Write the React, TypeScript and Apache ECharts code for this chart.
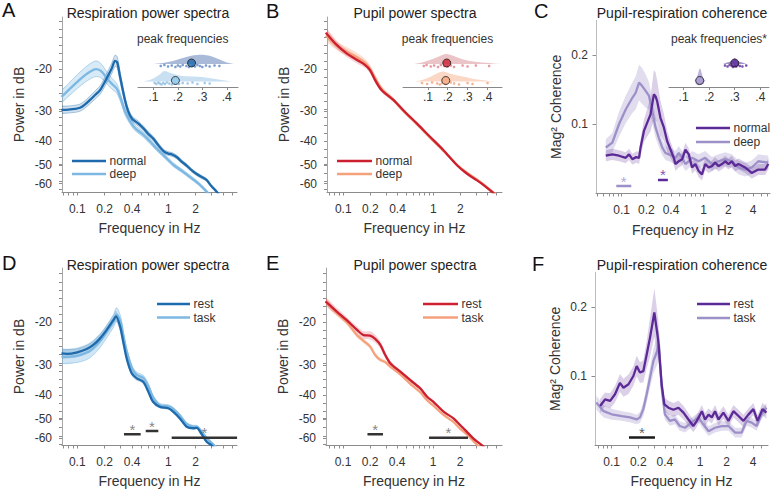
import React, { useEffect, useRef } from "react";
import * as echarts from "echarts";

type Row = [number, number, number]; // [Hz, mean, sem]
type Pt = [number, number];

// ================= DATA =================
// A: respiration power spectra (dB), normal vs deep breathing
const respNormal: Row[] = [
  [0.067, -29.6, 1.0], [0.08, -29.5, 1.0], [0.095, -29.3, 1.0], [0.107, -29.0, 1.0], [0.12, -28.2, 1.0],
  [0.138, -26.9, 1.0], [0.158, -25.6, 1.0], [0.178, -24.5, 1.0], [0.206, -22.2, 1.0], [0.239, -19.9, 1.0],
  [0.26, -18.5, 1.0], [0.275, -18.8, 1.0], [0.295, -21.5, 1.0], [0.334, -26.9, 0.9], [0.363, -30.0, 0.8],
  [0.4, -32.2, 0.8], [0.47, -33.8, 0.8], [0.531, -35.3, 0.8], [0.6, -37.2, 0.8], [0.684, -39.0, 0.8],
  [0.776, -41.5, 0.8], [0.9, -44.2, 0.8], [1.0, -45.0, 0.8], [1.1, -45.4, 0.8], [1.236, -46.5, 0.8],
  [1.4, -48.6, 0.8], [1.59, -50.5, 0.8], [1.8, -52.8, 0.8], [2.05, -54.8, 0.8], [2.35, -56.5, 0.8],
  [2.64, -58.0, 0.8], [2.87, -60.5, 0.8], [3.1, -62.5, 0.8], [3.4, -65.0, 0.8], [3.7, -67.5, 0.8],
];
const respDeep: Row[] = [
  [0.067, -26.1, 1.5], [0.08, -24.5, 1.5], [0.1, -22.6, 1.5], [0.12, -21.3, 1.5], [0.138, -20.5, 1.5],
  [0.16, -20.0, 1.5], [0.18, -20.3, 1.4], [0.2, -21.2, 1.3], [0.22, -22.2, 1.2], [0.239, -23.0, 1.2],
  [0.271, -24.1, 1.1], [0.3, -26.5, 1.0], [0.334, -30.0, 1.0], [0.38, -33.0, 0.9], [0.43, -35.2, 0.9],
  [0.53, -37.5, 0.9], [0.627, -40.0, 0.9], [0.75, -43.0, 0.9], [0.9, -46.0, 0.9], [1.13, -50.0, 0.9],
  [1.4, -53.0, 0.9], [1.7, -56.0, 0.9], [2.15, -60.0, 0.9], [2.5, -63.5, 0.9], [2.8, -66.5, 0.9],
];
// B: pupil power spectra
const pupilNormal: Row[] = [
  [0.064, -14.1, 0.6], [0.085, -15.9, 0.6], [0.109, -17.2, 0.6], [0.141, -18.3, 0.6], [0.174, -19.2, 0.6],
  [0.198, -20.2, 0.6], [0.225, -22.2, 0.6], [0.267, -24.5, 0.6], [0.36, -26.9, 0.5], [0.464, -29.7, 0.5],
  [0.655, -33.7, 0.5], [0.919, -38.3, 0.5], [1.29, -43.5, 0.5], [1.82, -50.2, 0.5], [2.35, -54.5, 0.5],
  [3.03, -58.1, 0.5], [3.59, -60.8, 0.5], [4.45, -64.9, 0.5], [5.0, -67.5, 0.5],
];
const pupilDeep: Row[] = [
  [0.064, -14.5, 0.7], [0.085, -16.0, 0.7], [0.109, -16.9, 0.7], [0.141, -17.8, 0.7], [0.174, -18.8, 0.7],
  [0.198, -19.9, 0.7], [0.225, -21.7, 0.7], [0.267, -24.2, 0.6], [0.36, -26.9, 0.6], [0.464, -29.9, 0.6],
  [0.655, -33.9, 0.6], [0.919, -38.6, 0.6], [1.29, -43.8, 0.6], [1.82, -50.0, 0.6], [2.35, -54.0, 0.6],
  [3.03, -57.6, 0.6], [3.59, -60.3, 0.6], [4.45, -64.5, 0.6], [5.0, -67.0, 0.6],
];
// C: pupil-respiration coherence
const cohNormal: Row[] = [
  [0.064, 0.054, 0.008], [0.077, 0.056, 0.008], [0.093, 0.054, 0.008], [0.112, 0.051, 0.008], [0.123, 0.056, 0.008],
  [0.135, 0.049, 0.008], [0.15, 0.052, 0.008], [0.163, 0.051, 0.009], [0.17, 0.066, 0.012], [0.187, 0.09, 0.016],
  [0.205, 0.102, 0.02], [0.225, 0.114, 0.025], [0.247, 0.143, 0.035], [0.259, 0.14, 0.035], [0.271, 0.133, 0.03],
  [0.297, 0.109, 0.025], [0.327, 0.095, 0.02], [0.359, 0.075, 0.015], [0.394, 0.063, 0.012], [0.432, 0.051, 0.01],
  [0.452, 0.042, 0.01], [0.497, 0.046, 0.009], [0.546, 0.049, 0.009], [0.599, 0.063, 0.01], [0.658, 0.056, 0.009],
  [0.722, 0.037, 0.009], [0.791, 0.042, 0.009], [0.869, 0.032, 0.009], [0.953, 0.027, 0.009], [1.045, 0.042, 0.009],
  [1.15, 0.037, 0.008], [1.26, 0.039, 0.008], [1.38, 0.044, 0.008], [1.52, 0.039, 0.008], [1.67, 0.042, 0.008],
  [1.83, 0.046, 0.008], [2.01, 0.042, 0.008], [2.2, 0.046, 0.008], [2.42, 0.039, 0.008], [2.66, 0.042, 0.008],
  [3.2, 0.037, 0.008], [3.85, 0.029, 0.008], [4.65, 0.034, 0.008], [5.6, 0.034, 0.008], [6.15, 0.042, 0.008],
];
const cohDeep: Row[] = [
  [0.064, 0.066, 0.012], [0.077, 0.073, 0.014], [0.093, 0.1, 0.018], [0.112, 0.121, 0.02], [0.135, 0.138, 0.022],
  [0.148, 0.145, 0.024], [0.163, 0.16, 0.026], [0.178, 0.155, 0.026], [0.196, 0.148, 0.024], [0.215, 0.141, 0.02],
  [0.236, 0.119, 0.018], [0.259, 0.095, 0.015], [0.284, 0.08, 0.013], [0.312, 0.066, 0.011], [0.342, 0.058, 0.01],
  [0.376, 0.056, 0.01], [0.412, 0.054, 0.01], [0.452, 0.051, 0.01], [0.497, 0.058, 0.01], [0.546, 0.051, 0.01],
  [0.599, 0.042, 0.01], [0.658, 0.046, 0.01], [0.722, 0.051, 0.01], [0.869, 0.046, 0.01], [1.045, 0.051, 0.01],
  [1.26, 0.042, 0.01], [1.52, 0.046, 0.01], [1.83, 0.049, 0.01], [2.2, 0.046, 0.01], [2.66, 0.037, 0.01],
  [3.2, 0.034, 0.01], [3.85, 0.037, 0.01], [4.65, 0.046, 0.01], [6.15, 0.044, 0.01],
];
// D: respiration power spectra, rest vs task
const respRest: Row[] = [
  [0.067, -26.9, 1.2], [0.0765, -27.0, 1.2], [0.1, -26.6, 1.2], [0.127, -25.8, 1.2], [0.15, -24.8, 1.2],
  [0.178, -23.3, 1.1], [0.21, -21.5, 1.0], [0.249, -19.6, 1.0], [0.266, -18.9, 1.0], [0.295, -20.8, 1.0],
  [0.32, -24.1, 0.9], [0.349, -28.2, 0.8], [0.396, -32.5, 0.8], [0.45, -34.1, 0.8], [0.53, -35.2, 0.8],
  [0.603, -38.7, 0.8], [0.68, -42.6, 0.8], [0.81, -44.7, 0.7], [1.0, -45.3, 0.7], [1.13, -46.8, 0.7],
  [1.34, -49.9, 0.7], [1.59, -54.0, 0.7], [1.88, -54.8, 0.7], [2.05, -54.6, 0.7], [2.3, -57.6, 0.7],
  [2.64, -62.3, 0.7], [2.97, -64.4, 0.7], [3.3, -67.0, 0.7],
];
const respTask: Row[] = [
  [0.067, -27.8, 1.8], [0.1, -27.5, 1.8], [0.13, -26.6, 1.8], [0.15, -25.6, 1.7], [0.18, -23.8, 1.5],
  [0.21, -21.9, 1.3], [0.25, -19.8, 1.2], [0.27, -18.6, 1.2], [0.3, -20.0, 1.1], [0.32, -22.6, 1.0],
  [0.35, -26.5, 0.9], [0.4, -31.0, 0.8], [0.45, -33.0, 0.8], [0.53, -33.9, 0.8], [0.6, -36.5, 0.8],
  [0.68, -40.8, 0.8], [0.81, -44.0, 0.7], [1.0, -44.5, 0.7], [1.13, -45.6, 0.7], [1.34, -48.5, 0.7],
  [1.59, -52.6, 0.7], [1.88, -54.0, 0.7], [2.05, -54.0, 0.7], [2.3, -56.3, 0.7], [2.64, -60.2, 0.7],
  [2.97, -62.8, 0.7], [3.4, -66.0, 0.7],
];
// E: pupil power spectra, rest vs task
const pupilRest: Row[] = [
  [0.064, -16.4, 0.6], [0.086, -18.1, 0.6], [0.11, -19.6, 0.6], [0.143, -21.5, 0.7], [0.17, -22.6, 0.8],
  [0.2, -22.7, 0.9], [0.228, -23.4, 0.9], [0.26, -24.8, 0.9], [0.295, -27.3, 0.8], [0.335, -29.5, 0.7],
  [0.433, -32.0, 0.6], [0.56, -34.7, 0.6], [0.722, -37.5, 0.6], [0.86, -40.6, 0.6], [1.01, -42.6, 0.6],
  [1.31, -46.8, 0.6], [1.69, -49.9, 0.6], [2.0, -53.1, 0.6], [2.37, -56.6, 0.6], [2.8, -60.3, 0.6],
  [3.49, -64.4, 0.6], [4.0, -67.0, 0.6],
];
const pupilTask: Row[] = [
  [0.064, -16.4, 0.5], [0.086, -18.4, 0.5], [0.11, -20.0, 0.5], [0.143, -22.6, 0.5], [0.17, -23.9, 0.5],
  [0.2, -25.2, 0.5], [0.228, -27.3, 0.5], [0.26, -28.6, 0.5], [0.295, -29.2, 0.5], [0.335, -30.5, 0.5],
  [0.433, -32.8, 0.5], [0.56, -35.9, 0.5], [0.722, -38.9, 0.5], [0.86, -42.0, 0.5], [1.01, -44.2, 0.5],
  [1.31, -48.3, 0.5], [1.69, -51.6, 0.5], [2.0, -55.0, 0.5], [2.37, -58.0, 0.5], [2.8, -61.8, 0.5],
  [3.2, -65.0, 0.5], [3.6, -67.5, 0.5],
];
// F: coherence, rest vs task
const cohRest: Row[] = [
  [0.074, 0.0565, 0.01], [0.084, 0.066, 0.01], [0.096, 0.064, 0.011], [0.109, 0.0735, 0.012], [0.124, 0.09, 0.013],
  [0.136, 0.083, 0.013], [0.155, 0.088, 0.014], [0.176, 0.1, 0.014], [0.192, 0.1145, 0.015], [0.209, 0.105, 0.015],
  [0.228, 0.107, 0.016], [0.249, 0.131, 0.02], [0.272, 0.156, 0.028], [0.304, 0.192, 0.035], [0.337, 0.151, 0.03],
  [0.368, 0.088, 0.015], [0.395, 0.059, 0.01], [0.439, 0.054, 0.01], [0.5, 0.051, 0.01], [0.57, 0.054, 0.01],
  [0.65, 0.047, 0.01], [0.74, 0.037, 0.009], [0.84, 0.0275, 0.009], [0.92, 0.035, 0.009], [1.05, 0.049, 0.009],
  [1.14, 0.037, 0.009], [1.25, 0.044, 0.009], [1.36, 0.04, 0.009], [1.48, 0.049, 0.009], [1.62, 0.037, 0.009],
  [1.84, 0.047, 0.009], [2.1, 0.035, 0.009], [2.39, 0.049, 0.009], [2.73, 0.042, 0.009], [3.1, 0.035, 0.009],
  [3.53, 0.044, 0.009], [4.02, 0.052, 0.009], [4.49, 0.035, 0.009], [5.1, 0.052, 0.009], [5.65, 0.047, 0.009],
];
const cohTask: Row[] = [
  [0.067, 0.0615, 0.01], [0.081, 0.049, 0.009], [0.1, 0.0445, 0.008], [0.13, 0.042, 0.007], [0.161, 0.04, 0.007],
  [0.192, 0.037, 0.007], [0.209, 0.04, 0.008], [0.228, 0.052, 0.01], [0.249, 0.0735, 0.012], [0.272, 0.098, 0.015],
  [0.297, 0.122, 0.018], [0.323, 0.134, 0.02], [0.343, 0.146, 0.022], [0.368, 0.083, 0.015], [0.4, 0.0445, 0.008],
  [0.456, 0.035, 0.007], [0.52, 0.037, 0.007], [0.59, 0.0275, 0.007], [0.676, 0.025, 0.007], [0.8, 0.0325, 0.007],
  [0.96, 0.04, 0.007], [1.09, 0.03, 0.007], [1.25, 0.02, 0.007], [1.48, 0.025, 0.007], [1.76, 0.0275, 0.007],
  [2.1, 0.0275, 0.007], [2.5, 0.018, 0.007], [2.96, 0.018, 0.007], [3.38, 0.035, 0.007], [3.85, 0.0325, 0.007],
  [4.37, 0.0275, 0.007], [4.98, 0.0445, 0.007], [5.65, 0.054, 0.007],
];

// Insets: peak frequencies (density [Hz, height], dots [Hz, jitter], mean Hz)
const peakRespNormalDensity: Pt[] = [[0.1, 0], [0.14, 1], [0.18, 3], [0.22, 6], [0.25, 8], [0.28, 9], [0.31, 9], [0.34, 7.5], [0.37, 4.5], [0.4, 1.5], [0.43, 0]];
const peakRespDeepDensity: Pt[] = [[0.06, 0], [0.09, 2], [0.12, 6], [0.145, 10.5], [0.165, 9], [0.19, 7], [0.22, 5.5], [0.26, 5], [0.3, 4.5], [0.34, 3], [0.38, 1.5], [0.42, 0]];
const peakRespNormalDots: Pt[] = [[0.13, 2], [0.145, 1], [0.16, 2.5], [0.175, 1.5], [0.19, 3], [0.2, 1.5], [0.21, 2.5], [0.22, 1], [0.235, 2], [0.245, 3], [0.26, 1.5], [0.27, 2.5], [0.28, 1], [0.29, 2], [0.3, 3], [0.315, 1.5], [0.33, 2.5], [0.35, 1.5], [0.37, 2]];
const peakRespDeepDots: Pt[] = [[0.105, 1.5], [0.112, 2.5], [0.12, 1], [0.126, 2], [0.133, 3], [0.14, 1.5], [0.147, 2.5], [0.155, 1], [0.165, 2], [0.175, 3], [0.19, 1.5], [0.205, 2.5], [0.22, 1.5], [0.24, 2], [0.26, 1], [0.28, 2.5], [0.31, 1.5], [0.33, 2]];
const peakRespNormalMean = 0.256;
const peakRespDeepMean = 0.19;

const peakPupilNormalDensity: Pt[] = [[0.03, 0], [0.07, 1.5], [0.11, 4], [0.15, 7], [0.19, 10], [0.23, 8], [0.27, 5], [0.31, 3], [0.35, 2], [0.39, 1.2], [0.43, 0.5], [0.47, 0]];
const peakPupilDeepDensity: Pt[] = [[0.03, 0], [0.07, 1.5], [0.11, 4.5], [0.15, 8.5], [0.175, 10], [0.21, 8], [0.25, 6], [0.29, 4.5], [0.33, 2.5], [0.37, 1.5], [0.41, 0.6], [0.45, 0]];
const peakPupilNormalDots: Pt[] = [[0.079, 2], [0.093, 1], [0.114, 2.5], [0.131, 1.5], [0.151, 3], [0.165, 1], [0.182, 2], [0.199, 2.5], [0.216, 1.5], [0.232, 3], [0.275, 1.5], [0.3, 2.5], [0.342, 1.5], [0.409, 2]];
const peakPupilDeepDots: Pt[] = [[0.07, 1.5], [0.096, 2.5], [0.121, 1], [0.147, 2], [0.16, 3], [0.172, 1.5], [0.189, 2.5], [0.215, 1], [0.232, 2], [0.257, 3], [0.3, 1.5], [0.325, 2.5], [0.401, 1.5]];
const peakPupilNormalMean = 0.195;
const peakPupilDeepMean = 0.19;

const peakCohNormalDensity: Pt[] = [[0.255, 0], [0.27, 1.5], [0.285, 2.5], [0.295, 4.5], [0.3, 6], [0.305, 4.5], [0.315, 2.5], [0.33, 1.5], [0.345, 0]];
const peakCohDeepDensity: Pt[] = [[0.142, 0], [0.15, 3], [0.157, 8], [0.162, 12.5], [0.166, 12.5], [0.171, 8], [0.178, 3], [0.186, 0]];
const peakCohNormalDots: Pt[] = [[0.262, 1.5], [0.272, 2.5], [0.28, 1], [0.288, 2], [0.294, 3], [0.3, 1.5], [0.306, 2.5], [0.312, 1], [0.32, 2], [0.33, 2.5], [0.345, 1.5]];
const peakCohDeepDots: Pt[] = [[0.152, 1.5], [0.158, 2.5], [0.163, 1], [0.168, 2], [0.174, 1.5]];
const peakCohNormalMean = 0.3;
const peakCohDeepMean = 0.163;

// significance bars [fromHz, toHz, level]
const sigCDeep: Row[] = [[0.086, 0.131, 0.01]];
const sigCNormal: Row[] = [[0.277, 0.366, 0.019]];
const sigD: Row[] = [[0.326, 0.497, -58.0], [0.565, 0.777, -56.3], [1.09, 5.7, -60.0]];
const sigE: Row[] = [[0.187, 0.278, -58.0], [0.904, 2.45, -60.0]];
const sigF: Row[] = [[0.157, 0.309, 0.0107]];

// ticks
const freqLabels = [0.1, 0.2, 0.4, 1, 2];
const freqLabelsWide = [0.1, 0.2, 0.4, 1, 2, 4];
const freqMinor = [0.05, 0.06, 0.07, 0.08, 0.09, 0.1, 0.2, 0.3, 0.4, 0.5, 0.6, 0.7, 0.8, 0.9, 1, 2, 3, 4, 5, 6];
const dbLabels = [-20, -30, -40, -50, -60];
const cohLabels = [0.1, 0.2];
const peakLabels = [0.1, 0.2, 0.3, 0.4];

// ================= STYLE / LAYOUT =================
const FONT = "'Liberation Sans', Arial, Helvetica, sans-serif";
const TXT = "#333333";
const AXC = "#8c8c8c";

const C = {
  respDark: "#1d6aac", respLight: "#7cb8e2",
  pupDark: "#cc1f2f", pupLight: "#f5a27c",
  cohDark: "#5b2a96", cohLight: "#9d90c8",
};

const L = (v: number) => Math.log10(v);
const tDb = (db: number) => Math.log10(-db);

const panels = [
  { left: 62, top: 17, width: 175, height: 175, x: [-1.168, 0.755], y: [1.084, 1.8135], kind: "power", labels: freqLabels },
  { left: 327, top: 17, width: 175, height: 175, x: [-1.181, 0.763], y: [1.084, 1.8135], kind: "power", labels: freqLabels },
  { left: 596, top: 20.5, width: 174, height: 172.5, x: [-1.313, 0.809], y: [0, 0.25], kind: "coh", labels: freqLabelsWide },
  { left: 62, top: 268, width: 175, height: 177, x: [-1.168, 0.755], y: [1.0766, 1.808], kind: "power", labels: freqLabels },
  { left: 326, top: 268, width: 176, height: 177, x: [-1.189, 0.767], y: [1.0766, 1.808], kind: "power", labels: freqLabels },
  { left: 595, top: 272.5, width: 173, height: 172.5, x: [-1.189, 0.77], y: [0, 0.25], kind: "coh", labels: freqLabelsWide },
];
const insets = [
  { left: 138, top: 50, width: 100, height: 37, x: [0.037, 0.446] },
  { left: 403, top: 50, width: 99, height: 37, x: [-0.026, 0.474] },
  { left: 669, top: 50, width: 100, height: 37, x: [0.043, 0.434] },
];
const ROW_TOP = 23;
const ROW_BOT = 5.5;

function fmtHz(v: number) {
  return String(Number(Math.pow(10, v).toPrecision(2)));
}

function powerMinor(y0: number, y1: number) {
  const out: number[] = [];
  for (let k = -12; k < 30; k++) {
    const t = 1.30103 + k * 0.0335;
    if (t >= y0 && t <= y1) out.push(t);
  }
  dbLabels.forEach((d) => out.push(L(-d)));
  return out.sort((a, b) => a - b);
}

// filled polygon between an upper and a lower curve, positioned by the axes (api.coord)
function bandCustom(gi: number, upper: number[][], lower: number[][], fill: string, edge: string | null, z: number, smooth: number) {
  return {
    type: "custom", xAxisIndex: gi, yAxisIndex: gi, silent: true, z, clip: true, animation: false,
    data: [upper[0]],
    renderItem: (_params: any, api: any) => {
      const up = upper.map((p) => api.coord(p));
      const lo = lower.map((p) => api.coord(p));
      const children: any[] = [
        { type: "polygon", shape: { points: up.concat(lo.slice().reverse()), smooth, smoothConstraint: false }, style: { fill, stroke: "none" } },
      ];
      if (edge) {
        children.push({ type: "polyline", shape: { points: up, smooth }, style: { stroke: edge, lineWidth: 0.7, fill: "none" } });
        children.push({ type: "polyline", shape: { points: lo, smooth }, style: { stroke: edge, lineWidth: 0.7, fill: "none" } });
      }
      return { type: "group", children };
    },
  };
}

function curve(gi: number, rows: Row[], kind: string, color: string, fill: string, edge: string | null, z: number) {
  const xs = rows.map((r) => L(r[0]));
  const lo = rows.map((r) => (kind === "power" ? tDb(r[1] + r[2]) : r[1] - r[2]));
  const hi = rows.map((r) => (kind === "power" ? tDb(r[1] - r[2]) : r[1] + r[2]));
  const mid = rows.map((r) => (kind === "power" ? tDb(r[1]) : r[1]));
  const power = kind === "power";
  return {
    band: bandCustom(gi, xs.map((x, i) => [x, hi[i]]), xs.map((x, i) => [x, lo[i]]), fill, edge, z, power ? 0.3 : 0),
    line: {
      type: "line", xAxisIndex: gi, yAxisIndex: gi, symbol: "none", showSymbol: false, silent: true, animation: false,
      smooth: power ? 0.3 : false, z: z + 10, data: xs.map((x, i) => [x, mid[i]]), lineStyle: { width: 2.3, color },
    },
  };
}

function sigSeries(gi: number, bars: Row[], kind: string, barColor: string, starColor: string) {
  const ty = (v: number) => (kind === "power" ? tDb(v) : v);
  const out: any[] = [];
  bars.forEach((b) => {
    out.push({
      type: "line", xAxisIndex: gi, yAxisIndex: gi, symbol: "none", silent: true, z: 30,
      data: [[L(b[0]), ty(b[2])], [L(b[1]), ty(b[2])]],
      lineStyle: { width: 2.5, color: barColor },
    });
    out.push({
      type: "scatter", xAxisIndex: gi, yAxisIndex: gi, silent: true, z: 31, symbolSize: 1,
      itemStyle: { color: "rgba(0,0,0,0)" },
      data: [[(L(b[0]) + L(b[1])) / 2, ty(b[2])]],
      label: { show: true, formatter: "*", position: "top", distance: -3, fontSize: 15, color: starColor, fontFamily: FONT },
    });
  });
  return out;
}

function violin(gi: number, density: Pt[], dots: Pt[], mean: number, base: number, fill: string, dotColor: string, meanColor: string) {
  const common: any = { xAxisIndex: gi, yAxisIndex: gi, silent: true, animation: false };
  return [
    bandCustom(gi, density.map((d) => [d[0], base + d[1]]), density.map((d) => [d[0], base]), fill, null, 2, 0.35),
    { ...common, type: "scatter", symbolSize: 2.6, data: dots.map((d) => [d[0], base - d[1]]), itemStyle: { color: dotColor }, z: 3 },
    { ...common, type: "scatter", symbolSize: 8, data: [[mean, base + 1]], itemStyle: { color: meanColor, borderColor: "#1a1a1a", borderWidth: 1 }, z: 5 },
  ];
}

function txt(text: string, x: number, y: number, size: number, color: string, align = "left") {
  return {
    type: "text", x, y, silent: true, z: 50,
    style: { text, fontSize: size, fontFamily: FONT, fill: color, align, verticalAlign: "middle", textAlign: align, textVerticalAlign: "middle" },
  };
}
function legendItem(x1: number, x2: number, y: number, color: string, label: string) {
  return [
    { type: "line", silent: true, z: 50, shape: { x1, y1: y, x2, y2: y }, style: { stroke: color, lineWidth: 2.5 } },
    txt(label, x2 + 3.5, y, 12, TXT),
  ];
}

function buildOption() {
  const grid: any[] = [];
  const xAxis: any[] = [];
  const yAxis: any[] = [];

  panels.forEach((p, i) => {
    grid.push({ left: p.left, top: p.top, width: p.width, height: p.height, containLabel: false, outerBoundsMode: "none" });
    const xr = p.x;
    xAxis.push({
      gridIndex: i, type: "value", min: xr[0], max: xr[1],
      axisLine: { show: true, onZero: false, lineStyle: { color: AXC, width: 1 } },
      axisTick: { show: true, length: 3.5, lineStyle: { color: AXC }, customValues: freqMinor.map(L).filter((v) => v >= xr[0] && v <= xr[1]) },
      axisLabel: { customValues: p.labels.map(L), formatter: fmtHz, margin: 11, fontSize: 12, color: TXT, fontFamily: FONT },
      splitLine: { show: false },
      name: "Frequency in Hz", nameLocation: "middle", nameGap: i === 2 ? 30 : 29, nameMoveOverlap: false,
      nameTextStyle: { fontSize: 14, color: TXT, fontFamily: FONT },
    });
    if (p.kind === "power") {
      yAxis.push({
        gridIndex: i, type: "value", inverse: true, min: p.y[0], max: p.y[1],
        axisLine: { show: true, onZero: false, lineStyle: { color: "#a6a6a6", width: 1 } },
        axisTick: { show: true, length: 3, lineStyle: { color: AXC }, customValues: powerMinor(p.y[0], p.y[1]) },
        axisLabel: { customValues: dbLabels.map((d) => L(-d)), formatter: (v: number) => "-" + Math.round(Math.pow(10, v)), margin: 10, fontSize: 12, color: TXT, fontFamily: FONT },
        splitLine: { show: false },
        name: "Power in dB", nameLocation: "middle", nameGap: 36, nameMoveOverlap: false,
        nameTextStyle: { fontSize: 14, color: TXT, fontFamily: FONT },
      });
    } else {
      yAxis.push({
        gridIndex: i, type: "value", min: p.y[0], max: p.y[1],
        axisLine: { show: true, onZero: false, lineStyle: { color: "#bdbdbd", width: 1 } },
        axisTick: { show: true, length: 3.5, lineStyle: { color: AXC }, customValues: cohLabels },
        axisLabel: { customValues: cohLabels, formatter: (v: number) => v.toFixed(1), margin: 8, fontSize: 12, color: TXT, fontFamily: FONT },
        splitLine: { show: false },
        name: "Mag² Coherence", nameLocation: "middle", nameGap: 33, nameMoveOverlap: false,
        nameTextStyle: { fontSize: 14, color: TXT, fontFamily: FONT },
      });
    }
  });

  insets.forEach((q, k) => {
    const gi = 6 + k;
    grid.push({ left: q.left, top: q.top, width: q.width, height: q.height, containLabel: false, outerBoundsMode: "none" });
    xAxis.push({
      gridIndex: gi, type: "value", min: q.x[0], max: q.x[1],
      axisLine: { show: true, onZero: false, lineStyle: { color: "#888", width: 1 } },
      axisTick: { show: true, length: 3, lineStyle: { color: "#888" }, customValues: peakLabels },
      axisLabel: { customValues: peakLabels, formatter: (v: number) => "." + Math.round(v * 10), margin: 4, fontSize: 12, color: TXT, fontFamily: FONT },
      splitLine: { show: false },
    });
    yAxis.push({ gridIndex: gi, type: "value", min: 0, max: 37, show: false, axisLine: { onZero: false } });
  });

  const all = [
    curve(0, respDeep, "power", C.respLight, "rgba(124,184,226,0.30)", "rgba(124,184,226,0.8)", 2),
    curve(0, respNormal, "power", C.respDark, "rgba(29,106,172,0.20)", "rgba(29,106,172,0.5)", 3),
    curve(1, pupilDeep, "power", C.pupLight, "rgba(245,162,124,0.35)", null, 2),
    curve(1, pupilNormal, "power", C.pupDark, "rgba(204,31,47,0.20)", null, 3),
    curve(2, cohDeep, "coh", C.cohLight, "rgba(157,144,200,0.30)", null, 2),
    curve(2, cohNormal, "coh", C.cohDark, "rgba(91,42,150,0.22)", null, 3),
    curve(3, respTask, "power", C.respLight, "rgba(124,184,226,0.35)", "rgba(124,184,226,0.7)", 2),
    curve(3, respRest, "power", C.respDark, "rgba(29,106,172,0.20)", null, 3),
    curve(4, pupilTask, "power", C.pupLight, "rgba(245,162,124,0.35)", null, 2),
    curve(4, pupilRest, "power", C.pupDark, "rgba(204,31,47,0.20)", null, 3),
    curve(5, cohTask, "coh", C.cohLight, "rgba(157,144,200,0.30)", null, 2),
    curve(5, cohRest, "coh", C.cohDark, "rgba(91,42,150,0.22)", null, 3),
  ];

  const series: any[] = [];
  all.forEach((c) => series.push(c.band));
  all.forEach((c) => series.push(c.line));
  series.push(...sigSeries(2, sigCDeep, "coh", C.cohLight, C.cohLight));
  series.push(...sigSeries(2, sigCNormal, "coh", C.cohDark, C.cohDark));
  series.push(...sigSeries(3, sigD, "power", "#333333", "#666666"));
  series.push(...sigSeries(4, sigE, "power", "#333333", "#666666"));
  series.push(...sigSeries(5, sigF, "coh", "#1a1a1a", "#333333"));

  series.push(...violin(6, peakRespNormalDensity, peakRespNormalDots, peakRespNormalMean, ROW_TOP, "rgba(140,163,204,0.75)", "#5b86c0", C.respDark));
  series.push(...violin(6, peakRespDeepDensity, peakRespDeepDots, peakRespDeepMean, ROW_BOT, "rgba(190,218,240,0.85)", "#8dbde2", "#8cc8ee"));
  series.push(...violin(7, peakPupilNormalDensity, peakPupilNormalDots, peakPupilNormalMean, ROW_TOP, "rgba(228,176,182,0.75)", "#e07f88", C.pupDark));
  series.push(...violin(7, peakPupilDeepDensity, peakPupilDeepDots, peakPupilDeepMean, ROW_BOT, "rgba(250,208,188,0.85)", "#f3a07c", "#f6a47c"));
  series.push(...violin(8, peakCohNormalDensity, peakCohNormalDots, peakCohNormalMean, ROW_TOP, "rgba(125,100,180,0.7)", C.cohDark, C.cohDark));
  series.push(...violin(8, peakCohDeepDensity, peakCohDeepDots, peakCohDeepMean, ROW_BOT, "rgba(170,158,212,0.8)", C.cohLight, "#a89ad0"));

  const graphic: any[] = [
    txt("A", 2, 9.5, 20, "#111"), txt("B", 266, 10.5, 20, "#111"), txt("C", 534, 10.5, 20, "#111"),
    txt("D", 2, 262.5, 20, "#111"), txt("E", 266, 262.5, 20, "#111"), txt("F", 532, 264, 20, "#111"),
    txt("Respiration power spectra", 148, 12.8, 14, "#222", "center"),
    txt("Pupil power spectra", 415, 12.8, 14, "#222", "center"),
    txt("Pupil-respiration coherence", 682, 12.8, 14, "#222", "center"),
    txt("Respiration power spectra", 148, 265, 14, "#222", "center"),
    txt("Pupil power spectra", 415, 265, 14, "#222", "center"),
    txt("Pupil-respiration coherence", 682, 265, 14, "#222", "center"),
    txt("peak frequencies", 182.7, 39.3, 12, TXT, "center"),
    txt("peak frequencies", 447.5, 39.3, 12, TXT, "center"),
    txt("peak frequencies*", 719, 39.3, 12, TXT, "center"),
    ...legendItem(72, 106, 161, C.respDark, "normal"),
    ...legendItem(72, 106, 174, C.respLight, "deep"),
    ...legendItem(337, 372, 161, C.pupDark, "normal"),
    ...legendItem(337, 372, 174, C.pupLight, "deep"),
    ...legendItem(696, 730, 128, C.cohDark, "normal"),
    ...legendItem(696, 730, 142, C.cohLight, "deep"),
    ...legendItem(157, 190, 304, C.respDark, "rest"),
    ...legendItem(157, 190, 317.5, C.respLight, "task"),
    ...legendItem(423, 458, 304, C.pupDark, "rest"),
    ...legendItem(423, 458, 317.5, C.pupLight, "task"),
    ...legendItem(697, 730, 304, C.cohDark, "rest"),
    ...legendItem(697, 730, 318, C.cohLight, "task"),
  ];

  return { animation: false, backgroundColor: "#ffffff", grid, xAxis, yAxis, series, graphic };
}

export default function App() {
  const ref = useRef<HTMLDivElement>(null);
  useEffect(() => {
    document.body.style.margin = "0";
    const chart = echarts.init(ref.current!, null, { renderer: "svg" });
    chart.setOption(buildOption() as any);
    return () => chart.dispose();
  }, []);
  return <div ref={ref} style={{ width: 772, height: 491, position: "absolute", left: 0, top: 0 }} />;
}
